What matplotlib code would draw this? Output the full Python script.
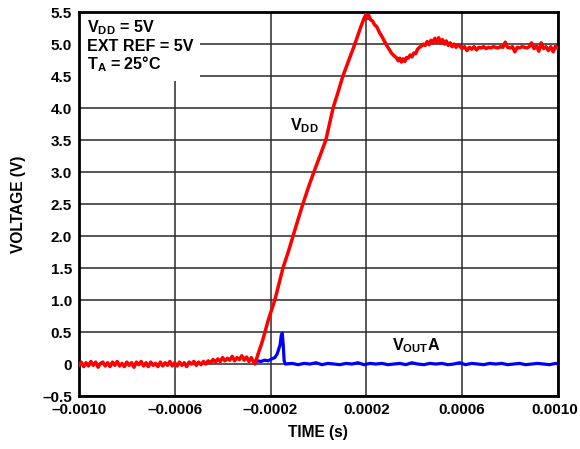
import numpy as np
import matplotlib.pyplot as plt
import matplotlib.transforms as mtransforms
from matplotlib.patches import Rectangle

plt.rcParams['font.family'] = ['Liberation Sans', 'DejaVu Sans']
plt.rcParams['font.weight'] = 'bold'
plt.rcParams['mathtext.fontset'] = 'custom'
plt.rcParams['mathtext.bf'] = 'Liberation Sans:bold'
plt.rcParams['mathtext.rm'] = 'Liberation Sans:bold'
plt.rcParams['mathtext.default'] = 'bf'

# VDD trace (time in microseconds, volts)
vdd_t_us = [-1000, -990, -980, -970, -960, -950, -940, -930, -920, -910, -900, -890, -880, -870, -860,
            -850, -840, -830, -820, -810, -800, -790, -780, -770, -760, -750, -740, -730, -720, -710,
            -700, -690, -680, -670, -660, -650, -640, -630, -620, -610, -600, -590, -580, -570, -560,
            -550, -540, -530, -520, -510, -500, -490, -480, -470, -460,
            -450, -440, -430, -420, -410, -400, -390, -380, -370, -360, -350, -340, -330, -320, -310,
            -300, -290, -280, -270, -265,
            -250, -237, -223, -210, -196, -182, -165, -148, -127, -106, -85, -65, -42, -19, 6, 31, 46,
            61, 82, 102, 127, 152, 175, 190,
            198, 204, 210, 218, 226, 235, 244, 255, 265, 275, 285, 295, 305, 315, 325, 333, 340, 347,
            354, 361, 368, 375, 383, 390, 398, 406, 414, 422, 430, 438, 446, 454, 462, 470, 478, 486,
            494, 502, 510, 518, 526, 534, 542, 550, 558, 566, 574, 582,
            590, 600, 610, 620, 630, 640, 650, 660, 670, 680, 690, 700, 710, 720, 730, 740, 750, 760,
            770, 780, 790, 800, 810, 820, 830, 840, 850, 860, 870, 880, 890, 900, 910, 920, 930, 940,
            950, 960, 970, 980, 990, 1000]
vdd_v = [-0.02, 0.03, -0.04, 0.02, -0.03, 0.04, -0.02, 0.03, -0.05, 0.01, 0.03, -0.03, 0.02, -0.04, 0.03,
         -0.02, 0.04, -0.03, 0.01, -0.04, 0.03, -0.02, 0.02, -0.05, 0.03, -0.01, 0.04, -0.03, 0.02, -0.04,
         0.03, -0.02, 0.01, -0.04, 0.03, -0.03, 0.02, -0.02, 0.04, -0.03, 0.02, -0.03, 0.03, -0.02, 0.02,
         -0.04, 0.03, 0.0, 0.04, -0.02, 0.03, -0.01, 0.04, 0.0, 0.05,
         0.02, 0.07, 0.03, 0.08, 0.04, 0.10, 0.05, 0.09, 0.06, 0.12, 0.05, 0.10, 0.07, 0.13, 0.06,
         0.11, 0.04, 0.10, 0.03, 0.0,
         0.18, 0.32, 0.50, 0.68, 0.84, 1.00, 1.25, 1.50, 1.74, 2.00, 2.26, 2.50, 2.76, 3.00, 3.25, 3.50, 3.75,
         4.00, 4.25, 4.50, 4.75, 5.00, 5.25, 5.40,
         5.46, 5.40, 5.45, 5.38, 5.36, 5.30, 5.27, 5.18, 5.12, 5.05, 4.98, 4.92, 4.86, 4.82, 4.79, 4.74, 4.78, 4.72,
         4.77, 4.73, 4.79, 4.78, 4.83, 4.80, 4.86, 4.85, 4.92, 4.95, 4.97, 5.00, 4.98, 5.04, 4.99, 5.06, 5.02, 5.09,
         5.03, 5.10, 5.02, 5.07, 5.00, 5.05, 4.98, 5.02, 4.96, 5.00, 4.95, 4.99,
         4.97, 4.93, 4.96, 4.90, 4.95, 4.92, 4.96, 4.91, 4.95, 4.94, 4.96, 4.93, 4.95, 4.94, 4.96, 4.95, 4.94, 4.96,
         4.95, 5.03, 4.95, 4.94, 4.96, 4.88, 4.95, 4.94, 4.96, 4.95, 4.94, 4.96, 5.02, 4.93, 4.97, 4.89, 5.02, 4.93,
         4.96, 4.90, 4.96, 4.88, 4.97, 4.93]

# VOUTA trace
vout_t_us = [-265, -255, -240, -225, -210, -195, -182, -172, -160, -155, -151, -147, -143, -138,
             -110, -85, -60, -35, -10, 15, 40, 65, 90, 115, 140, 165, 190, 215, 240, 265, 290, 315, 340,
             365, 390, 415, 440, 465, 490, 515, 540, 565, 590, 615, 640, 665, 690, 715, 740, 765, 790,
             815, 840, 865, 890, 915, 940, 965, 990, 1000]
vout_v = [0.02, 0.05, 0.04, 0.06, 0.05, 0.08, 0.10, 0.16, 0.30, 0.45, 0.48, 0.30, 0.05, 0.0,
          0.01, -0.01, 0.01, 0.0, 0.02, -0.01, 0.01, 0.0, -0.01, 0.01, 0.0, 0.02, -0.01, 0.01, 0.0, 0.01,
          -0.01, 0.0, 0.01, -0.01, 0.02, 0.0, -0.01, 0.01, 0.0, 0.01, -0.01, 0.0, 0.02, -0.01, 0.01, 0.0,
          -0.01, 0.01, 0.0, 0.01, -0.01, 0.0, 0.01, -0.01, 0.0, 0.01, 0.0, -0.01, 0.01, 0.0]

x_ticks = [-0.0010, -0.0006, -0.0002, 0.0002, 0.0006, 0.0010]
x_labels = ['\u20130.0010', '\u20130.0006', '\u20130.0002', '0.0002', '0.0006', '0.0010']
y_ticks = [-0.5, 0, 0.5, 1.0, 1.5, 2.0, 2.5, 3.0, 3.5, 4.0, 4.5, 5.0, 5.5]
y_labels = ['\u20130.5', '0', '0.5', '1.0', '1.5', '2.0', '2.5', '3.0', '3.5', '4.0', '4.5', '5.0', '5.5']

fig = plt.figure(figsize=(5.8, 4.49), dpi=100)
ax = fig.add_axes([0.136, 0.118, 0.826, 0.855])

ax.set_xlim(-0.001, 0.001)
ax.set_ylim(-0.5, 5.5)
ax.set_xticks(x_ticks)
ax.set_xticklabels(x_labels)
ax.set_yticks(y_ticks)
ax.set_yticklabels(y_labels)
ax.tick_params(length=0, labelsize=11, pad=5)
ax.grid(True, color='#2a2a2a', lw=1.1)
ax.set_axisbelow(True)
for s in ax.spines.values():
    s.set_linewidth(2.0)

# nudge the last x label so it stays inside the figure
last = ax.get_xticklabels()[-1]
last.set_transform(last.get_transform() + mtransforms.ScaledTranslation(-3 / 100, 0, fig.dpi_scale_trans))

# white box behind the conditions text
ax.add_patch(Rectangle((-0.001, 4.42), 0.000505, 1.08, facecolor='white', edgecolor='none', zorder=1))

ax.plot(np.array(vout_t_us) * 1e-6, vout_v, color='#0000ff', lw=2.3, zorder=2)
ax.plot(np.array(vdd_t_us) * 1e-6, vdd_v, color='#ff0000', lw=2.5, zorder=3)

ax.text(-0.000967, 5.18, r'V$_{DD}$ = 5V', fontsize=11.6, fontweight='bold', zorder=4)
ax.text(-0.000967, 4.90, 'EXT REF = 5V', fontsize=11.6, fontweight='bold', zorder=4)
ax.text(-0.000967, 4.60, r'T$_{A}$ = 25°C', fontsize=11.6, fontweight='bold', zorder=4)
ax.text(-0.000119, 3.66, r'V$_{DD}$', fontsize=11.6, fontweight='bold', zorder=4)
ax.text(0.000307, 0.22, r'V$_{OUT}$A', fontsize=11.6, fontweight='bold', zorder=4)

ax.set_xlabel('TIME (s)', fontsize=11.2, fontweight='bold', labelpad=6)
ax.set_ylabel('VOLTAGE (V)', fontsize=11.2, fontweight='bold', labelpad=12)

plt.savefig('out.png', dpi=100)
